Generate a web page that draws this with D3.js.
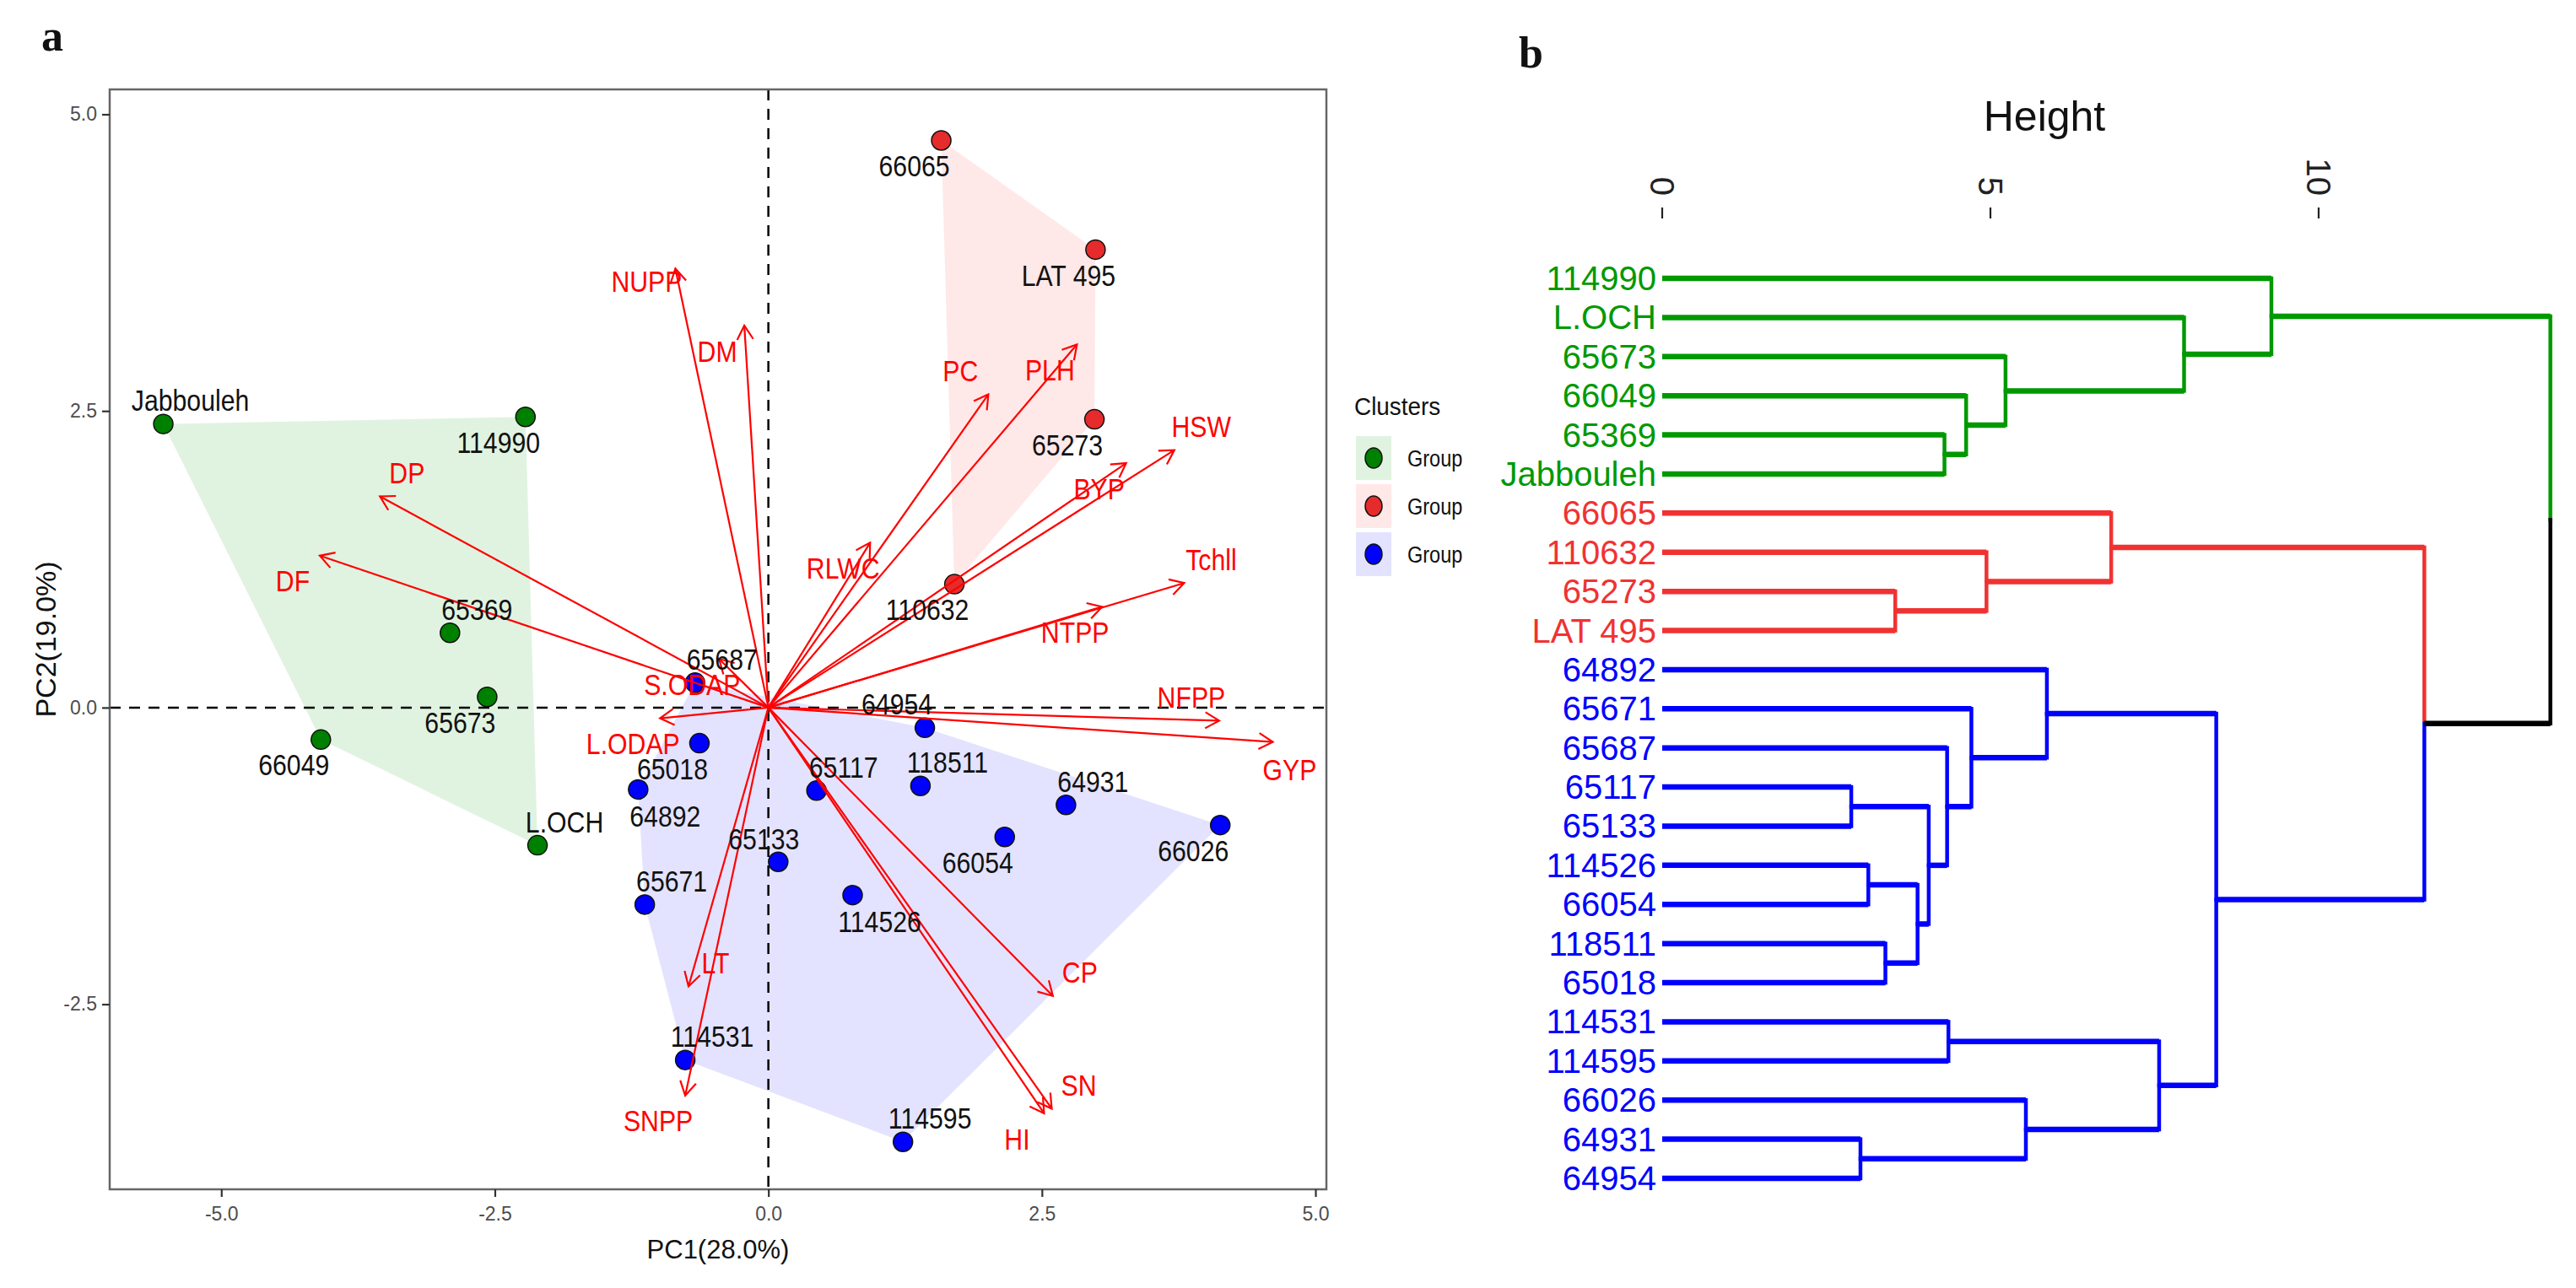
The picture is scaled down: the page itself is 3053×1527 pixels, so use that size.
<!DOCTYPE html>
<html>
<head>
<meta charset="utf-8">
<script src="https://cdn.jsdelivr.net/npm/d3@7"></script>
<style>
  body { margin: 0; background: #fff; }
  text { font-family: "Liberation Sans", Arial, sans-serif; }
</style>
</head>
<body>
<script>
// ---- datos: PCA biplot (panel a) ----
const pointNames = ["Jabbouleh", "114990", "65369", "65673", "66049", "L.OCH",
  "66065", "LAT 495", "65273", "110632",
  "65687", "64954", "118511", "65018", "64892", "65117", "64931", "66054",
  "66026", "65133", "65671", "114526", "114531", "114595"];
const pc1 = [-5.53, -2.22, -2.91, -2.57, -4.09, -2.11,
  1.58, 2.99, 2.98, 1.70,
  -0.67, 1.43, 1.39, -0.63, -1.19, 0.44, 2.72, 2.16, 4.13, 0.09, -1.13, 0.77, -0.76, 1.23];
const pc2 = [2.39, 2.45, 0.63, 0.09, -0.27, -1.16,
  4.78, 3.86, 2.43, 1.04,
  0.21, -0.17, -0.66, -0.30, -0.69, -0.70, -0.82, -1.09, -0.99, -1.30, -1.66, -1.58, -2.97, -3.66];
const pointGroup = [0, 0, 0, 0, 0, 0, 1, 1, 1, 1, 2, 2, 2, 2, 2, 2, 2, 2, 2, 2, 2, 2, 2, 2];

// variables (flechas)
const varNames = ["NUPP", "DM", "DP", "DF", "S.ODAP", "L.ODAP", "RLWC", "PC", "PLH", "BYP",
  "HSW", "Tchll", "NTPP", "NFPP", "GYP", "LT", "SNPP", "CP", "SN", "HI"];
const varPC1 = [-0.85, -0.22, -3.55, -4.10, -0.45, -0.99, 0.93, 2.01, 2.82, 3.27,
  3.71, 3.80, 3.05, 4.12, 4.61, -0.73, -0.76, 2.60, 2.59, 2.52];
const varPC2 = [3.70, 3.22, 1.78, 1.28, 0.41, -0.09, 1.39, 2.64, 3.06, 2.06,
  2.17, 1.05, 0.85, -0.11, -0.29, -2.35, -3.27, -2.43, -3.38, -3.42];

const xTicks = [-5, -2.5, 0, 2.5, 5];
const yTicks = [-2.5, 0, 2.5, 5];
const groupLabels = ["Group", "Group", "Group"];

// ---- datos: dendrograma (panel b) ----
const leafNames = ["114990", "L.OCH", "65673", "66049", "65369", "Jabbouleh",
  "66065", "110632", "65273", "LAT 495",
  "64892", "65671", "65687", "65117", "65133", "114526", "66054", "118511", "65018",
  "114531", "114595", "66026", "64931", "64954"];
const leafGroup = [0, 0, 0, 0, 0, 0, 1, 1, 1, 1, 2, 2, 2, 2, 2, 2, 2, 2, 2, 2, 2, 2, 2, 2];
// [id, hijo superior, hijo inferior, altura]
const merges = [
  ["g1", "65369", "Jabbouleh", 4.30],
  ["g2", "66049", "g1", 4.63],
  ["g3", "65673", "g2", 5.23],
  ["g4", "L.OCH", "g3", 7.95],
  ["g5", "114990", "g4", 9.28],
  ["r1", "65273", "LAT 495", 3.55],
  ["r2", "110632", "r1", 4.94],
  ["r3", "66065", "r2", 6.84],
  ["b1", "65117", "65133", 2.88],
  ["b2", "114526", "66054", 3.14],
  ["b3", "118511", "65018", 3.40],
  ["b4", "b2", "b3", 3.89],
  ["b5", "b1", "b4", 4.06],
  ["b6", "65687", "b5", 4.34],
  ["b7", "65671", "b6", 4.71],
  ["b8", "64892", "b7", 5.86],
  ["b9", "114531", "114595", 4.36],
  ["b10", "64931", "64954", 3.02],
  ["b11", "66026", "b10", 5.54],
  ["b12", "b9", "b11", 7.57],
  ["b13", "b8", "b12", 8.44],
  ["rb", "r3", "b13", 11.61],
  ["root", "g5", "rb", 13.53]
];
const heightTicks = [0, 5, 10];

// ---- estilo / posiciones de etiquetas ----
const dotColors = ["#008000", "#e52b2b", "#0000ff"];
const hullColors = ["#00a000", "#ff0000", "#0000ff"];
const hullAlpha = [0.12, 0.09, 0.11];
const dendroColors = ["#009900", "#f03232", "#0000ff"];
const nudge = { NE: [32, -28], NW: [-33, -28], SE: [32, 31], SW: [-32, 30], N: [-17, -27], W: [-34, 15], S: [20, 33] };
const pointLabelDir = ["NE", "SW", "NE", "SW", "SW", "NE", "SW", "SW", "SW", "SW",
  "NE", "NW", "NE", "SW", "SE", "NE", "NE", "SW", "SW", "N", "NE", "SE", "NE", "NE"];
const varLabelDir = ["W", "SW", "NE", "SW", "SW", "SW", "SW", "NW", "SW", "SW",
  "NE", "NE", "SW", "NW", "S", "NE", "SW", "NE", "NE", "SW"];
const squash = 0.84;

const width = 3053, height = 1527;
const svg = d3.select("body").append("svg")
  .attr("width", width)
  .attr("height", height);
svg.append("rect").attr("width", width).attr("height", height).attr("fill", "#fff");

// ================= panel a =================
const panel = { left: 130, right: 1572, top: 106, bottom: 1410 };
const x = d3.scaleLinear().domain([-6.02, 5.10]).range([panel.left, panel.right]);
const y = d3.scaleLinear().domain([-4.06, 5.21]).range([panel.bottom, panel.top]);

const pts = pointNames.map((n, i) => ({ name: n, px: x(pc1[i]), py: y(pc2[i]), g: pointGroup[i], dir: pointLabelDir[i] }));

// casco convexo por grupo
[0, 1, 2].forEach(g => {
  const hull = d3.polygonHull(pts.filter(p => p.g === g).map(p => [p.px, p.py]));
  svg.append("path")
    .attr("d", "M" + hull.join("L") + "Z")
    .attr("fill", hullColors[g])
    .attr("fill-opacity", hullAlpha[g]);
});

// lineas de referencia
svg.append("line")
  .attr("x1", x(0)).attr("x2", x(0)).attr("y1", panel.top).attr("y2", panel.bottom)
  .attr("stroke", "#000").attr("stroke-width", 2.5).attr("stroke-dasharray", "13,10");
svg.append("line")
  .attr("x1", panel.left).attr("x2", panel.right).attr("y1", y(0)).attr("y2", y(0))
  .attr("stroke", "#000").attr("stroke-width", 2.5).attr("stroke-dasharray", "13,10");

// puntos
svg.selectAll(".dot")
  .data(pts)
  .enter().append("circle")
  .attr("class", "dot")
  .attr("cx", d => d.px)
  .attr("cy", d => d.py)
  .attr("r", 11.5)
  .attr("fill", d => dotColors[d.g])
  .attr("stroke", "#111")
  .attr("stroke-width", 1.5);

// flechas
const vars = varNames.map((n, i) => ({ name: n, tx: x(varPC1[i]), ty: y(varPC2[i]), dir: varLabelDir[i] }));
const ox = x(0), oy = y(0);
svg.selectAll(".arrow")
  .data(vars)
  .enter().append("line")
  .attr("class", "arrow")
  .attr("x1", ox).attr("y1", oy)
  .attr("x2", d => d.tx).attr("y2", d => d.ty)
  .attr("stroke", "#ff0000").attr("stroke-width", 2.2);
svg.selectAll(".arrowhead")
  .data(vars)
  .enter().append("path")
  .attr("class", "arrowhead")
  .attr("d", d => {
    const a = Math.atan2(d.ty - oy, d.tx - ox);
    const len = 19, spread = Math.PI / 6;
    const p1 = [d.tx - len * Math.cos(a - spread), d.ty - len * Math.sin(a - spread)];
    const p2 = [d.tx - len * Math.cos(a + spread), d.ty - len * Math.sin(a + spread)];
    return `M${p1}L${d.tx},${d.ty}L${p2}`;
  })
  .attr("fill", "none").attr("stroke", "#ff0000").attr("stroke-width", 2.2);

// etiquetas de puntos
svg.selectAll(".plabel")
  .data(pts)
  .enter().append("text")
  .attr("class", "plabel")
  .attr("transform", d => `translate(${d.px + nudge[d.dir][0]},${d.py + nudge[d.dir][1]}) scale(${squash},1)`)
  .attr("text-anchor", "middle")
  .attr("dy", "0.35em")
  .attr("font-size", 36)
  .attr("fill", "#111")
  .text(d => d.name);

// etiquetas de variables
svg.selectAll(".vlabel")
  .data(vars)
  .enter().append("text")
  .attr("class", "vlabel")
  .attr("transform", d => `translate(${d.tx + nudge[d.dir][0]},${d.ty + nudge[d.dir][1]}) scale(${squash},1)`)
  .attr("text-anchor", "middle")
  .attr("dy", "0.35em")
  .attr("font-size", 36)
  .attr("fill", "#ff0000")
  .text(d => d.name);

// borde del panel
svg.append("rect")
  .attr("x", panel.left).attr("y", panel.top)
  .attr("width", panel.right - panel.left).attr("height", panel.bottom - panel.top)
  .attr("fill", "none").attr("stroke", "#666").attr("stroke-width", 2.5);

// ejes
const fmt = d => d.toFixed(1);
const yAxis = svg.append("g")
  .attr("transform", `translate(${panel.left},0)`)
  .call(d3.axisLeft(y).tickValues(yTicks).tickFormat(fmt).tickSize(9).tickPadding(6));
const xAxis = svg.append("g")
  .attr("transform", `translate(0,${panel.bottom})`)
  .call(d3.axisBottom(x).tickValues(xTicks).tickFormat(fmt).tickSize(9).tickPadding(12));
[xAxis, yAxis].forEach(ax => {
  ax.select(".domain").remove();
  ax.selectAll("line").attr("stroke", "#333").attr("stroke-width", 2.2);
  ax.selectAll("text").attr("font-size", 23).attr("fill", "#4d4d4d")
    .style("font-family", "'Liberation Sans', Arial, sans-serif");
});

svg.append("text")
  .attr("x", (panel.left + panel.right) / 2).attr("y", 1492)
  .attr("text-anchor", "middle").attr("font-size", 31).attr("fill", "#111")
  .text("PC1(28.0%)");
svg.append("text")
  .attr("transform", `translate(66,${(panel.top + panel.bottom) / 2}) rotate(-90)`)
  .attr("text-anchor", "middle").attr("font-size", 34).attr("fill", "#111")
  .text("PC2(19.0%)");

// leyenda
svg.append("text")
  .attr("transform", "translate(1605,492) scale(0.93,1)")
  .attr("font-size", 30).attr("fill", "#111")
  .text("Clusters");
const legend = svg.selectAll(".legend")
  .data(groupLabels)
  .enter().append("g")
  .attr("class", "legend")
  .attr("transform", (d, i) => `translate(1607,${517 + i * 57})`);
legend.append("rect")
  .attr("width", 42).attr("height", 52)
  .attr("fill", (d, i) => hullColors[i])
  .attr("fill-opacity", (d, i) => hullAlpha[i]);
legend.append("ellipse")
  .attr("cx", 21).attr("cy", 26).attr("rx", 10).attr("ry", 12)
  .attr("fill", (d, i) => dotColors[i])
  .attr("stroke", "#111").attr("stroke-width", 1.5);
legend.append("text")
  .attr("transform", "translate(61,26) scale(0.84,1)")
  .attr("dy", "0.35em")
  .attr("font-size", 28).attr("fill", "#111")
  .text(d => d);

// ================= panel b =================
const hx = d3.scaleLinear().domain([0, 10]).range([1970, 2748]);
const ly = d3.scalePoint().domain(leafNames).range([330, 1397]);

// construir nodos
const nodes = {};
leafNames.forEach((n, i) => { nodes[n] = { id: n, h: 0, y: ly(n), g: leafGroup[i] }; });
merges.forEach(([id, a, b, h]) => {
  const A = nodes[a], B = nodes[b];
  nodes[id] = { id, h, y: (A.y + B.y) / 2, g: A.g === B.g ? A.g : -1, kids: [A, B] };
});
const colorOf = g => g < 0 ? "#000" : dendroColors[g];

const dendro = svg.append("g");
merges.forEach(([id]) => {
  const node = nodes[id];
  const [A, B] = node.kids;
  const nx = hx(node.h);
  // verticales: mitad superior color del hijo de arriba, mitad inferior del de abajo
  dendro.append("line")
    .attr("x1", nx).attr("x2", nx).attr("y1", A.y).attr("y2", node.y)
    .attr("stroke", colorOf(A.g)).attr("stroke-width", 4.5).attr("stroke-linecap", "square");
  dendro.append("line")
    .attr("x1", nx).attr("x2", nx).attr("y1", node.y).attr("y2", B.y)
    .attr("stroke", colorOf(B.g)).attr("stroke-width", 4.5).attr("stroke-linecap", "square");
  // horizontales
  [A, B].forEach(c => {
    dendro.append("line")
      .attr("x1", hx(c.h)).attr("x2", nx).attr("y1", c.y).attr("y2", c.y)
      .attr("stroke", colorOf(c.g)).attr("stroke-width", 6.5);
  });
});

svg.selectAll(".leaf")
  .data(leafNames)
  .enter().append("text")
  .attr("class", "leaf")
  .attr("x", 1963)
  .attr("y", d => ly(d))
  .attr("dy", "0.35em")
  .attr("text-anchor", "end")
  .attr("font-size", 40)
  .attr("fill", (d, i) => dendroColors[leafGroup[i]])
  .text(d => d);

// eje de altura
svg.selectAll(".htick")
  .data(heightTicks)
  .enter().append("line")
  .attr("class", "htick")
  .attr("x1", d => hx(d)).attr("x2", d => hx(d))
  .attr("y1", 246).attr("y2", 259)
  .attr("stroke", "#222").attr("stroke-width", 2.2);
svg.selectAll(".hlabel")
  .data(heightTicks)
  .enter().append("text")
  .attr("class", "hlabel")
  .attr("transform", d => `translate(${hx(d)},232) rotate(90)`)
  .attr("text-anchor", "end")
  .attr("dy", "0.35em")
  .attr("font-size", 40)
  .attr("fill", "#222")
  .text(d => d);
svg.append("text")
  .attr("x", 2423).attr("y", 155)
  .attr("text-anchor", "middle").attr("font-size", 50).attr("fill", "#111")
  .text("Height");

// letras de panel
svg.append("text")
  .attr("x", 49).attr("y", 60)
  .style("font-family", "'Liberation Serif', 'DejaVu Serif', serif")
  .attr("font-weight", "bold").attr("font-size", 52).attr("fill", "#111")
  .text("a");
svg.append("text")
  .attr("x", 1800).attr("y", 80)
  .style("font-family", "'Liberation Serif', 'DejaVu Serif', serif")
  .attr("font-weight", "bold").attr("font-size", 52).attr("fill", "#111")
  .text("b");
</script>
</body>
</html>
